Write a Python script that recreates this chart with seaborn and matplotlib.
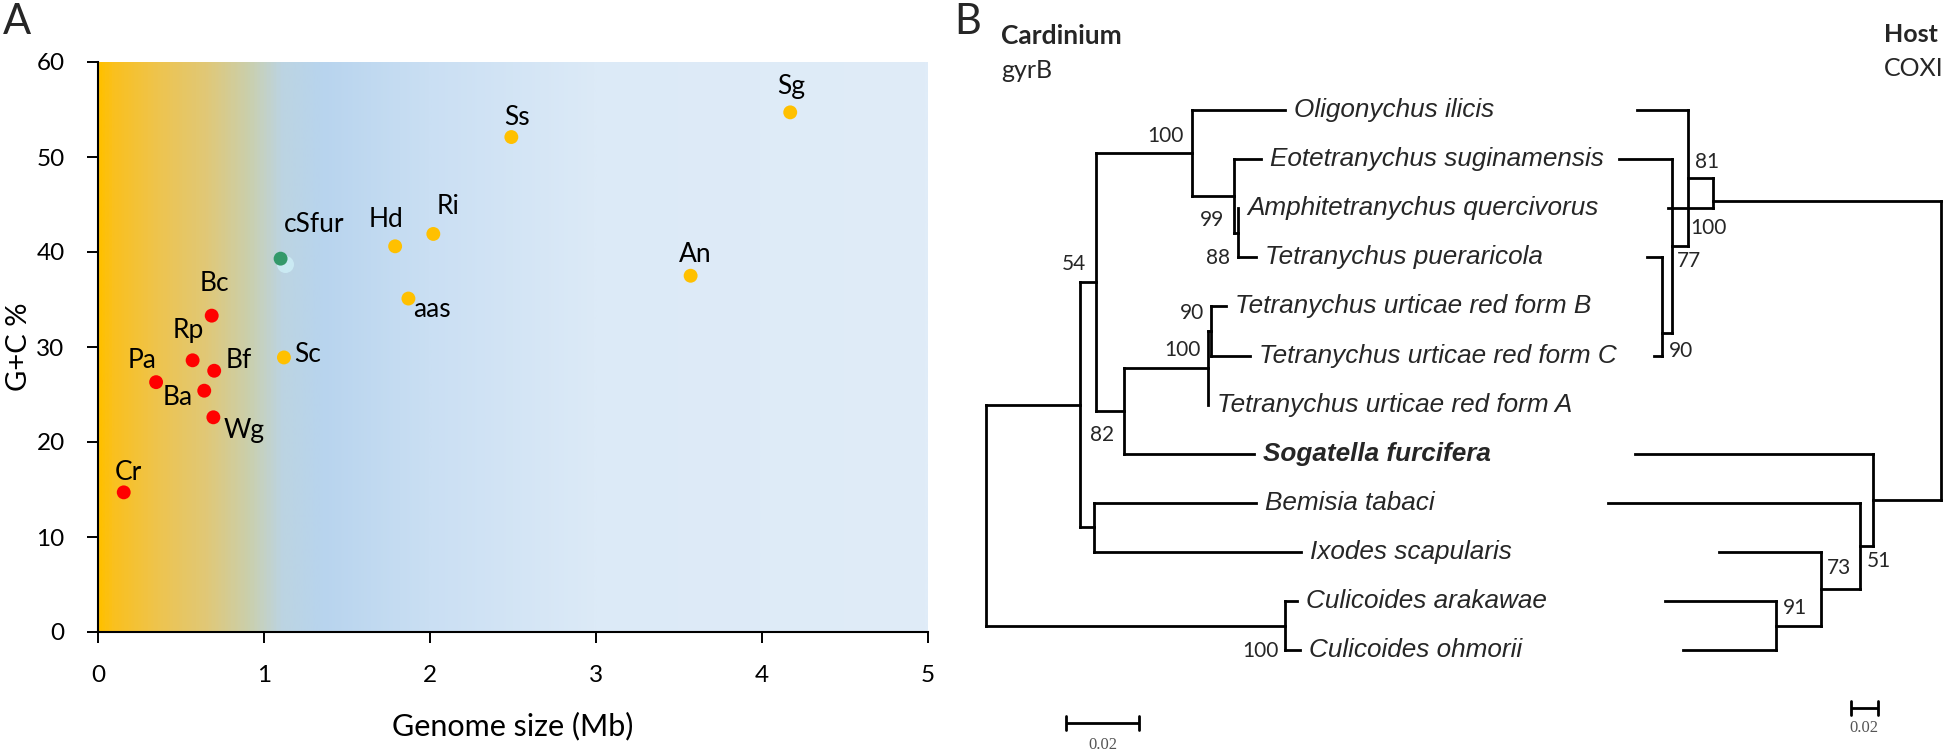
import numpy as np
import pandas as pd
import matplotlib
matplotlib.use("Agg")
import matplotlib.pyplot as plt
import matplotlib.transforms as mtransforms
from matplotlib.colors import LinearSegmentedColormap
import seaborn as sns

# ---------------- Panel A data ----------------
symbionts = ["Sg", "Ss", "Ri", "Hd", "cSfur", "An", "aas", "Sc",
             "Bc", "Rp", "Bf", "Pa", "Ba", "Wg", "Cr"]
genome_size_mb = [4.17, 2.49, 2.02, 1.79, 1.10, 3.57, 1.87, 1.12,
                  0.685, 0.57, 0.70, 0.35, 0.64, 0.695, 0.155]
gc_percent = [54.7, 52.1, 41.9, 40.6, 39.3, 37.5, 35.1, 28.9,
              33.3, 28.6, 27.5, 26.3, 25.4, 22.6, 14.7]
symbiont_group = ["large", "large", "large", "large", "cSfur", "large", "large", "large",
                  "small", "small", "small", "small", "small", "small", "small"]
x_ticks = [0, 1, 2, 3, 4, 5]
y_ticks = [0, 10, 20, 30, 40, 50, 60]

# ---------------- Panel B data ----------------
tip_codes = ["Oil", "Esu", "Aqu", "Tpu", "TuB", "TuC", "TuA", "Sfu", "Bta", "Isc", "Car", "Coh"]
taxa = ["Oligonychus ilicis", "Eotetranychus suginamensis", "Amphitetranychus quercivorus",
        "Tetranychus pueraricola", "Tetranychus urticae red form B",
        "Tetranychus urticae red form C", "Tetranychus urticae red form A",
        "Sogatella furcifera", "Bemisia tabaci", "Ixodes scapularis",
        "Culicoides arakawae", "Culicoides ohmorii"]

# Cardinium gyrB tree: child, parent, branch length
gyrb_child = ["E", "G", "D", "F", "N100", "C", "Oil", "A", "Esu", "B", "Aqu", "Tpu",
              "H", "Sfu", "I", "TuA", "TuB", "TuC", "Bta", "Isc", "Car", "Coh"]
gyrb_parent = ["root", "root", "E", "E", "D", "D", "N100", "N100", "A", "A", "B", "B",
               "C", "C", "H", "H", "I", "I", "F", "F", "G", "G"]
gyrb_length = [0.026, 0.0824, 0.0043, 0.0038, 0.0265, 0.0077, 0.0255, 0.0114, 0.0076,
               0.0012, 0.0, 0.005, 0.0233, 0.0358, 0.0006, 0.0, 0.0042, 0.0108,
               0.0446, 0.0569, 0.0034, 0.0040]
gyrb_support_node = ["N100", "A", "B", "D", "C", "I", "H", "G"]
gyrb_support_value = [100, 99, 88, 54, 82, 90, 100, 100]

# Host COXI tree
coxi_child = ["N1", "N4", "N81", "Aqu", "Oil", "N77", "Esu", "N90", "Tpu", "TuC",
              "Sfu", "N51", "Bta", "N73", "Isc", "N91", "Car", "Coh"]
coxi_parent = ["root", "root", "N1", "N1", "N81", "N81", "N77", "N77", "N90", "N90",
               "N4", "N4", "N51", "N51", "N73", "N73", "N91", "N91"]
coxi_length = [0.171, 0.051, 0.0187, 0.0337, 0.0382, 0.012, 0.0397, 0.0075, 0.0112, 0.006,
               0.1783, 0.0098, 0.1887, 0.0292, 0.0764, 0.0337, 0.0831, 0.0697]
coxi_support_node = ["N81", "N81", "N77", "N90", "N51", "N73", "N91"]
coxi_support_value = [81, 100, 77, 90, 51, 73, 91]
scale_bar_length = 0.02

# ---------------- layout / style ----------------
W, H = 1946, 753
DPI = 100
sns.set_theme(style="white")
plt.rcParams["font.family"] = ["Lato", "DejaVu Sans"]
SPECIES_FONT, SPECIES_SIZE = ["Liberation Sans", "DejaVu Sans"], 18.8

fig = plt.figure(figsize=(W / DPI, H / DPI), dpi=DPI)
fig.patch.set_facecolor("white")

def fx(px):
    return px / W

def fy(py):
    return 1 - py / H

# ---------------- Panel A ----------------
axA = fig.add_axes([fx(98), fy(632), fx(928) - fx(98), fy(62) - fy(632)])
stops = [(0.00, (255, 192, 0)), (0.08, (250, 192, 30)), (0.35, (238, 196, 78)),
         (0.65, (224, 200, 120)), (0.90, (202, 207, 172)), (1.10, (188, 212, 226)),
         (1.35, (184, 212, 238)), (2.00, (202, 223, 243)), (3.00, (220, 234, 247)),
         (5.00, (224, 236, 248))]
cmap = LinearSegmentedColormap.from_list(
    "bg", [(s / 5.0, tuple(c / 255 for c in col)) for s, col in stops])
grad = np.linspace(0, 1, 600).reshape(1, -1)
axA.imshow(grad, extent=[0, 5, 0, 60], aspect="auto", cmap=cmap, zorder=0,
           interpolation="bilinear")

df = pd.DataFrame({"name": symbionts, "size": genome_size_mb, "gc": gc_percent,
                   "group": symbiont_group})
palette = {"large": "#FFC000", "small": "#FF0000", "cSfur": "#33996A"}

# faint halo under cSfur
sub = df[df["group"] == "cSfur"]
halo_tr = axA.transData + mtransforms.ScaledTranslation(4 / DPI, -5 / DPI, fig.dpi_scale_trans)
axA.scatter(sub["size"], sub["gc"], s=150, color="#cdeef6", alpha=0.85, lw=0,
            transform=halo_tr, zorder=2)

sns.scatterplot(data=df, x="size", y="gc", hue="group", palette=palette, s=100,
                edgecolor="none", linewidth=0, legend=False, ax=axA, zorder=3)

label_offsets = {"Sg": (1, 26), "Ss": (6, 20), "Ri": (15, 27), "Hd": (-9, 27),
                 "cSfur": (34, 34), "An": (5, 21), "aas": (24, -11), "Sc": (24, 3),
                 "Bc": (3, 32), "Rp": (-4, 30), "Bf": (25, 10), "Pa": (-14, 22),
                 "Ba": (-27, -7), "Wg": (31, -13), "Cr": (5, 20)}
for _, r in df.iterrows():
    dx, dy = label_offsets[r["name"]]
    axA.annotate(r["name"], (r["size"], r["gc"]), xytext=(dx, dy),
                 textcoords="offset pixels", ha="center", va="center",
                 fontsize=19, color="black", zorder=4)

axA.set_xlim(0, 5)
axA.set_ylim(0, 60)
axA.set_xticks(x_ticks)
axA.set_yticks(y_ticks)
axA.set_xticklabels([str(t) for t in x_ticks])
axA.set_yticklabels([str(t) for t in y_ticks])
for s in ["top", "right"]:
    axA.spines[s].set_visible(False)
for s in ["left", "bottom"]:
    axA.spines[s].set_color("black")
    axA.spines[s].set_linewidth(1.5)
    axA.spines[s].set_zorder(5)
axA.tick_params(axis="both", direction="out", length=8, width=1.4, colors="black",
                labelsize=17.5, pad=16, left=True, bottom=True)
axA.set_xlabel("Genome size (Mb)", fontsize=22, labelpad=18, color="black")
axA.set_ylabel("G+C %", fontsize=21, labelpad=3, color="black")
axA.grid(False)

fig.text(fx(3), fy(22), "A", fontsize=30, va="center", ha="left")

# ---------------- Panel B ----------------
ROW0, ROWH = 110, 49.1

def build_tree(child, parent, length, tip_rows, row_override):
    kids = {}
    for c, p in zip(child, parent):
        kids.setdefault(p, []).append(c)
    blen = dict(zip(child, length))
    depth = {"root": 0.0}

    def set_depth(n):
        for c in kids.get(n, []):
            depth[c] = depth[n] + blen[c]
            set_depth(c)
    set_depth("root")
    row = {}

    def set_row(n):
        if n in tip_rows:
            row[n] = tip_rows[n]
            return row[n]
        ys = [set_row(c) for c in kids[n]]
        row[n] = row_override.get(n, (min(ys) + max(ys)) / 2)
        return row[n]
    set_row("root")
    return kids, depth, row

def draw_tree(ax, kids, depth, row, lw=2.0):
    kw = dict(color="black", lw=lw, solid_capstyle="projecting", zorder=3)
    for n, cs in kids.items():
        ys = [row[c] for c in cs] + [row[n]]
        ax.plot([depth[n], depth[n]], [min(ys), max(ys)], **kw)
        for c in cs:
            if depth[c] > depth[n]:
                ax.plot([depth[n], depth[c]], [row[c], row[c]], **kw)

tip_rows = {c: i for i, c in enumerate(tip_codes)}
name_of = dict(zip(tip_codes, taxa))

# gyrB (left) tree axes: root at x=985.6 px, 0.02 = 72.7 px
g_root_px, g_scale = 985.6, 72.7 / 0.02
axG = fig.add_axes([fx(955), 0, 1 - fx(955), 1])
axG.set_xlim((955 - g_root_px) / g_scale, (W - g_root_px) / g_scale)
axG.set_ylim((H - ROW0) / ROWH, (0 - ROW0) / ROWH)
axG.axis("off")
axG.patch.set_alpha(0)

kids_g, depth_g, row_g = build_tree(gyrb_child, gyrb_parent, gyrb_length, tip_rows, {})
draw_tree(axG, kids_g, depth_g, row_g)
for c in tip_codes:
    bold = c == "Sfu"
    axG.annotate(name_of[c], (depth_g[c], row_g[c]), xytext=(9, 0),
                 textcoords="offset pixels", ha="left", va="center",
                 fontsize=SPECIES_SIZE, style="italic",
                 fontweight="bold" if bold else "normal",
                 family=SPECIES_FONT)
g_support_offsets = {0: (-8, 17), 1: (-9, -24), 2: (-8, -25), 3: (-10, 18), 4: (-10, -24),
                     5: (-6, 18), 6: (-8, 18), 7: (-6, -25)}
for i, (n, v) in enumerate(zip(gyrb_support_node, gyrb_support_value)):
    axG.annotate(str(v), (depth_g[n], row_g[n]), xytext=g_support_offsets[i],
                 textcoords="offset pixels", ha="right", va="center", fontsize=15)

# scale bar gyrB
sb_x0, sb_row = (1066.4 - g_root_px) / g_scale, (723 - ROW0) / ROWH
tick_h = 7 / ROWH
axG.plot([sb_x0, sb_x0 + scale_bar_length], [sb_row, sb_row], color="black", lw=2,
         solid_capstyle="butt")
for xx in [sb_x0, sb_x0 + scale_bar_length]:
    axG.plot([xx, xx], [sb_row - tick_h, sb_row + tick_h], color="black", lw=2)
axG.text(sb_x0 + scale_bar_length / 2, (745 - ROW0) / ROWH, "0.02", ha="center",
         va="center", fontsize=12, color="#555555", family=["Liberation Serif", "DejaVu Serif"])

# COXI (right, mirrored) tree axes: root at x=1941 px, 0.02 = 26.7 px
c_root_px, c_scale = 1941.0, 26.7 / 0.02
axC = fig.add_axes([fx(955), 0, 1 - fx(955), 1])
axC.set_xlim((c_root_px - 955) / c_scale, (c_root_px - W) / c_scale)
axC.set_ylim((H - ROW0) / ROWH, (0 - ROW0) / ROWH)
axC.axis("off")
axC.patch.set_alpha(0)

kids_c, depth_c, row_c = build_tree(coxi_child, coxi_parent, coxi_length, tip_rows,
                                    {"N90": 4.55, "N1": 1.85})
draw_tree(axC, kids_c, depth_c, row_c)
c_support_offsets = {0: (7, 16), 1: (3, -50), 2: (5, -15), 3: (7, -18), 4: (7, -15),
                     5: (6, 21), 6: (7, 18)}
for i, (n, v) in enumerate(zip(coxi_support_node, coxi_support_value)):
    axC.annotate(str(v), (depth_c[n], row_c[n]), xytext=c_support_offsets[i],
                 textcoords="offset pixels", ha="left", va="center", fontsize=15)

sc_x0, sc_row = (c_root_px - 1877.5) / c_scale, (708 - ROW0) / ROWH
axC.plot([sc_x0, sc_x0 + scale_bar_length], [sc_row, sc_row], color="black", lw=2,
         solid_capstyle="butt")
for xx in [sc_x0, sc_x0 + scale_bar_length]:
    axC.plot([xx, xx], [sc_row - tick_h, sc_row + tick_h], color="black", lw=2)
axC.text(sc_x0 + scale_bar_length / 2, (728 - ROW0) / ROWH, "0.02", ha="center",
         va="center", fontsize=12, color="#555555", family=["Liberation Serif", "DejaVu Serif"])

# headers
fig.text(fx(954), fy(22), "B", fontsize=30, va="center", ha="left")
fig.text(fx(1001), fy(36), "Cardinium", fontsize=19, fontweight="bold", va="center", ha="left")
fig.text(fx(1001), fy(71), "gyrB", fontsize=18, va="center", ha="left")
fig.text(fx(1884), fy(34), "Host", fontsize=18, fontweight="bold", va="center", ha="left")
fig.text(fx(1884), fy(69), "COXI", fontsize=18, va="center", ha="left")

fig.savefig("out.png", dpi=DPI, facecolor="white")
